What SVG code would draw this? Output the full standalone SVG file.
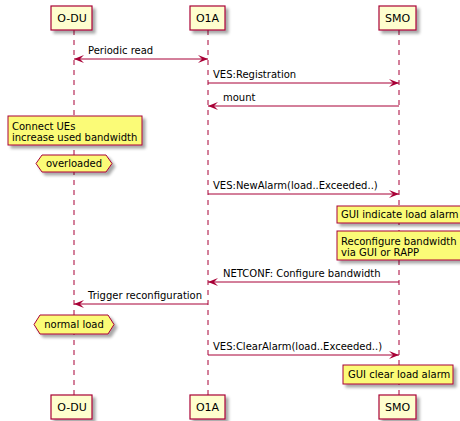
<svg xmlns="http://www.w3.org/2000/svg" width="460" height="421" viewBox="0 0 460 421">
<defs>
<filter id="sh" x="-20%" y="-20%" width="150%" height="160%">
<feGaussianBlur in="SourceAlpha" stdDeviation="1.5"/>
<feOffset dx="3" dy="3" result="b"/>
<feComponentTransfer><feFuncA type="linear" slope="0.35"/></feComponentTransfer>
<feMerge><feMergeNode/><feMergeNode in="SourceGraphic"/></feMerge>
</filter>
<marker id="ah" viewBox="0 0 10 8" refX="10" refY="4" markerWidth="10" markerHeight="8" markerUnits="userSpaceOnUse" orient="auto-start-reverse">
<polygon points="0,0 10,4 0,8 4,4" fill="#A80036"/>
</marker>
</defs>
<style>
text{font-family:"DejaVu Sans","Liberation Sans",sans-serif;fill:#000}
.part{fill:#FEFECE;stroke:#A80036;stroke-width:1.2}
.pt{font-size:11px;text-anchor:middle}
.life{stroke:#A80036;stroke-width:1;stroke-dasharray:5,5}
.msg{stroke:#A80036;stroke-width:1;fill:none}
.mt{font-size:10px}
.note{fill:#FBFB77;stroke:#A80036;stroke-width:1}
.nt{font-size:10px}
</style>
<rect width="460" height="421" fill="#fff"/>
<g id="lifelines">
<line class="life" x1="74" y1="30" x2="74" y2="395"/>
<line class="life" x1="208" y1="30" x2="208" y2="395"/>
<line class="life" x1="399" y1="30" x2="399" y2="395"/>
</g>
<g id="p-odu-top"><rect class="part" x="51" y="6" width="41" height="24" filter="url(#sh)"/><text class="pt" x="72" y="22">O-DU</text></g>
<g id="p-o1a-top"><rect class="part" x="190" y="6" width="35" height="24" filter="url(#sh)"/><text class="pt" x="207.5" y="22">O1A</text></g>
<g id="p-smo-top"><rect class="part" x="379" y="6" width="37" height="24" filter="url(#sh)"/><text class="pt" x="397.5" y="22">SMO</text></g>
<g id="connectors">
<line class="msg" x1="74" y1="59" x2="208" y2="59" marker-start="url(#ah)" marker-end="url(#ah)"/>
<text class="mt" x="88" y="54">Periodic read</text>
<line class="msg" x1="208" y1="83" x2="399" y2="83" marker-end="url(#ah)"/>
<text class="mt" x="213" y="78">VES:Registration</text>
<line class="msg" x1="399" y1="106" x2="208" y2="106" marker-end="url(#ah)"/>
<text class="mt" x="223" y="101">mount</text>
<line class="msg" x1="208" y1="194" x2="399" y2="194" marker-end="url(#ah)"/>
<text class="mt" x="213" y="189">VES:NewAlarm(load..Exceeded..)</text>
<line class="msg" x1="399" y1="282" x2="208" y2="282" marker-end="url(#ah)"/>
<text class="mt" x="223" y="277">NETCONF: Configure bandwidth</text>
<line class="msg" x1="208" y1="304" x2="74" y2="304" marker-end="url(#ah)"/>
<text class="mt" x="88" y="299">Trigger reconfiguration</text>
<line class="msg" x1="208" y1="355" x2="399" y2="355" marker-end="url(#ah)"/>
<text class="mt" x="213" y="350">VES:ClearAlarm(load..Exceeded..)</text>
</g>
<g id="note-connect"><rect class="note" x="8" y="116" width="134" height="29" filter="url(#sh)"/><text class="nt" x="12" y="129.5">Connect UEs</text><text class="nt" x="12" y="141">increase used bandwidth</text></g>
<g id="state-overloaded"><polygon class="note" points="36,163.5 42,155 106,155 112,163.5 106,172 42,172" filter="url(#sh)"/><text class="nt" x="74" y="167" text-anchor="middle">overloaded</text></g>
<g id="note-gui-indicate"><rect class="note" x="337" y="206" width="124" height="17" filter="url(#sh)"/><text class="nt" x="341" y="218">GUI indicate load alarm</text></g>
<g id="note-reconfigure"><rect class="note" x="337" y="231" width="124" height="29" filter="url(#sh)"/><text class="nt" x="341" y="245">Reconfigure bandwidth</text><text class="nt" x="341" y="256">via GUI or RAPP</text></g>
<g id="state-normal"><polygon class="note" points="34,324.5 40,315 108,315 114,324.5 108,334 40,334" filter="url(#sh)"/><text class="nt" x="74" y="328" text-anchor="middle">normal load</text></g>
<g id="note-gui-clear"><rect class="note" x="343" y="365" width="110" height="19" filter="url(#sh)"/><text class="nt" x="348" y="378">GUI clear load alarm</text></g>
<g id="p-odu-bot"><rect class="part" x="51" y="395" width="41" height="24" filter="url(#sh)"/><text class="pt" x="72" y="411">O-DU</text></g>
<g id="p-o1a-bot"><rect class="part" x="190" y="395" width="35" height="24" filter="url(#sh)"/><text class="pt" x="207.5" y="411">O1A</text></g>
<g id="p-smo-bot"><rect class="part" x="379" y="395" width="37" height="24" filter="url(#sh)"/><text class="pt" x="397.5" y="411">SMO</text></g>
</svg>
